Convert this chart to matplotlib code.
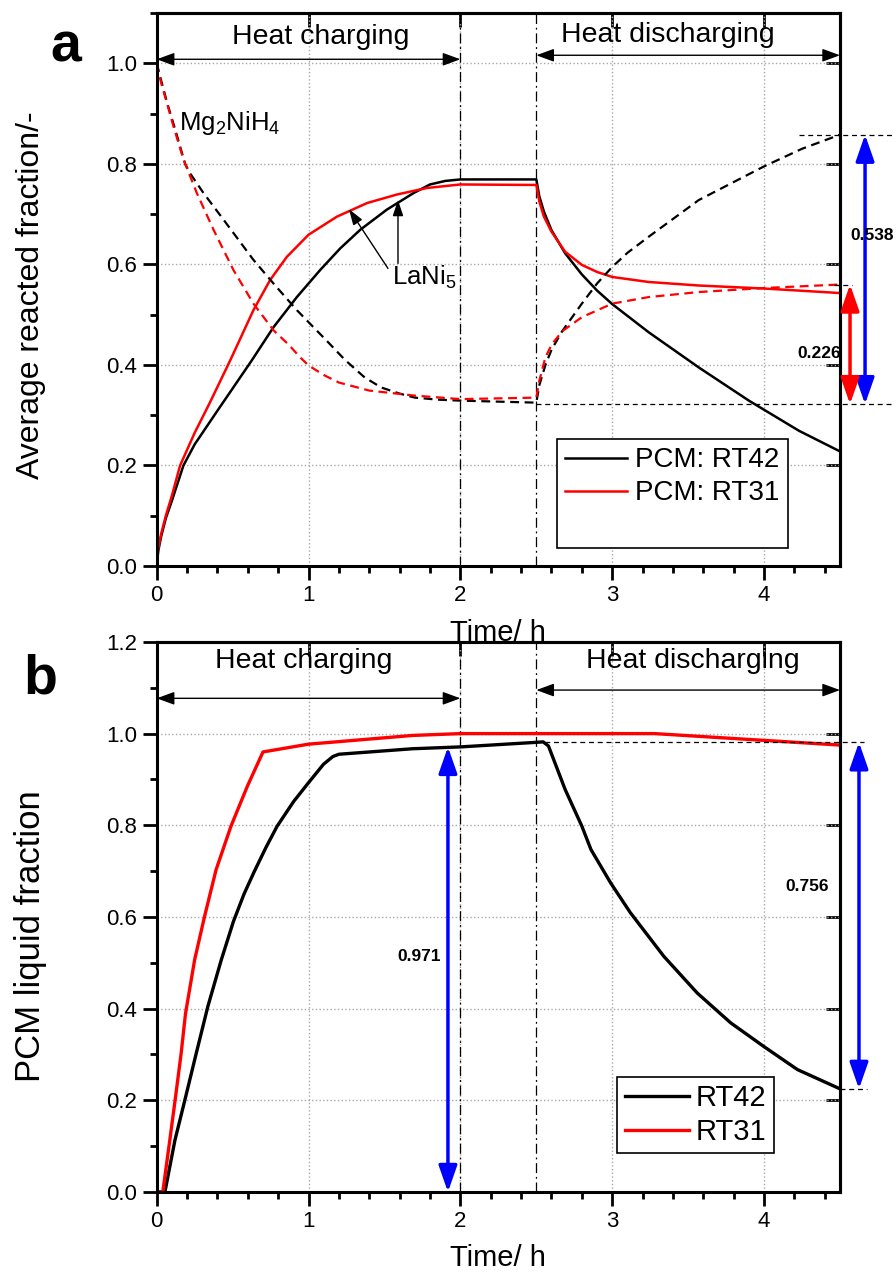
import matplotlib
matplotlib.use('Agg')
import matplotlib.pyplot as plt
from matplotlib.lines import Line2D
from matplotlib.ticker import MultipleLocator, NullLocator

plt.rcParams['font.family'] = ['Liberation Sans', 'DejaVu Sans']
plt.rcParams['mathtext.fontset'] = 'custom'
plt.rcParams['mathtext.rm'] = 'Liberation Sans'

# ---- panel a: average reacted fraction ----
t_la42 = [0, 0.01, 0.03, 0.06, 0.1, 0.176, 0.25, 0.4, 0.626, 0.769, 0.923, 1.077, 1.209, 1.341, 1.516, 1.692,
          1.8, 1.9, 2.0, 2.5, 2.52, 2.55, 2.6, 2.69, 2.8, 2.9, 3.0, 3.24, 3.57, 3.9, 4.23, 4.5]
v_la42 = [0, 0.03, 0.06, 0.095, 0.13, 0.2, 0.242, 0.309, 0.409, 0.475, 0.535, 0.589, 0.632, 0.669, 0.709, 0.742,
          0.759, 0.766, 0.769, 0.769, 0.735, 0.705, 0.668, 0.622, 0.58, 0.548, 0.521, 0.465, 0.395, 0.329, 0.269, 0.228]

t_la31 = [0, 0.01, 0.03, 0.06, 0.1, 0.154, 0.25, 0.35, 0.484, 0.637, 0.747, 0.857, 1.0, 1.187, 1.385,
          1.582, 1.78, 2.0, 2.5, 2.52, 2.55, 2.6, 2.69, 2.8, 2.9, 3.0, 3.24, 3.57, 4.0, 4.5]
v_la31 = [0, 0.035, 0.065, 0.1, 0.14, 0.2, 0.265, 0.325, 0.409, 0.509, 0.569, 0.615, 0.659, 0.695, 0.722,
          0.739, 0.752, 0.759, 0.758, 0.725, 0.695, 0.665, 0.625, 0.599, 0.585, 0.575, 0.565, 0.558, 0.552, 0.543]

t_mg42 = [0, 0.03, 0.07, 0.121, 0.187, 0.22, 0.308, 0.44, 0.637, 0.769, 0.923, 1.01, 1.12, 1.24, 1.37, 1.48,
          1.6, 1.7, 1.85, 2.0, 2.5, 2.52, 2.56, 2.6, 2.67, 2.8, 2.9, 3.0, 3.1, 3.24, 3.57, 4.0, 4.25, 4.5]
v_mg42 = [1.0, 0.965, 0.92, 0.869, 0.8, 0.781, 0.742, 0.689, 0.609, 0.562, 0.509, 0.482, 0.448, 0.41, 0.375, 0.355,
          0.343, 0.335, 0.331, 0.329, 0.325, 0.36, 0.4, 0.43, 0.467, 0.522, 0.562, 0.595, 0.623, 0.655, 0.728, 0.795,
          0.83, 0.858]

t_mg31 = [0, 0.03, 0.066, 0.11, 0.176, 0.264, 0.374, 0.505, 0.637, 0.769, 0.87, 0.945, 1.0, 1.1, 1.2, 1.4,
          1.7, 2.0, 2.5, 2.52, 2.56, 2.6, 2.67, 2.8, 3.0, 3.24, 3.57, 4.0, 4.5]
v_mg31 = [1.0, 0.96, 0.922, 0.875, 0.809, 0.742, 0.669, 0.589, 0.522, 0.469, 0.44, 0.415, 0.399, 0.38, 0.365, 0.349,
          0.339, 0.332, 0.335, 0.369, 0.415, 0.44, 0.467, 0.495, 0.522, 0.535, 0.545, 0.553, 0.56]

# ---- panel b: PCM liquid fraction ----
t_pcm42 = [0, 0.054, 0.12, 0.185, 0.26, 0.337, 0.424, 0.505, 0.575, 0.641, 0.72, 0.793, 0.902, 1.0, 1.098, 1.16,
           1.2, 1.685, 2.0, 2.5, 2.545, 2.58, 2.69, 2.8, 2.86, 2.99, 3.12, 3.34, 3.56, 3.78, 4.0, 4.22, 4.5]
v_pcm42 = [0, 0, 0.113, 0.2, 0.302, 0.405, 0.505, 0.59, 0.65, 0.698, 0.752, 0.798, 0.852, 0.893, 0.933, 0.95,
           0.955, 0.967, 0.971, 0.981, 0.982, 0.973, 0.878, 0.798, 0.747, 0.674, 0.609, 0.514, 0.434, 0.369, 0.317,
           0.267, 0.225]

t_pcm31 = [0, 0.04, 0.085, 0.125, 0.16, 0.19, 0.25, 0.315, 0.391, 0.489, 0.598, 0.7, 1.0, 1.685, 2.0, 3.28, 4.5]
v_pcm31 = [0, 0, 0.11, 0.21, 0.3, 0.39, 0.507, 0.601, 0.703, 0.798, 0.886, 0.96, 0.977, 0.996, 1.0, 1.0, 0.975]

# annotation values
charge_span = [0, 2]
discharge_span = [2.5, 4.5]
a_low, a_mg42_end, a_mg31_end = 0.322, 0.858, 0.56
a_labels = ['0.538', '0.226']
b_la_end, b_peak, b_final = 0.971, 0.981, 0.225
b_labels = ['0.971', '0.756']

fig = plt.figure(figsize=(8.96, 12.78), dpi=100)
ax1 = fig.add_axes([0.1749, 0.5571, 0.7626, 0.4327])
ax2 = fig.add_axes([0.1749, 0.0673, 0.7626, 0.4304])
ax2.set_facecolor('none')


def style(ax, ymax):
    ax.set_xlim(0, 4.5)
    ax.set_ylim(0, ymax)
    ax.xaxis.set_major_locator(MultipleLocator(1))
    ax.xaxis.set_minor_locator(MultipleLocator(0.2))
    ax.yaxis.set_major_locator(MultipleLocator(0.2))
    ax.yaxis.set_minor_locator(MultipleLocator(0.1))
    ax.yaxis.set_major_formatter('{x:.1f}')
    ax.tick_params(which='major', direction='out', length=10, width=2, labelsize=16, pad=4)
    ax.tick_params(which='minor', direction='out', length=5, width=2)
    ax.grid(True, which='major', linestyle=':', color='#a8a8a8', lw=1)
    for s in ax.spines.values():
        s.set_linewidth(2.2)
    top = ax.secondary_xaxis('top')
    top.set_xticks([0, 1, 2, 3, 4])
    top.xaxis.set_minor_locator(NullLocator())
    top.tick_params(direction='in', length=10, width=2, labeltop=False)
    top.spines['top'].set_linewidth(2.2)
    right = ax.secondary_yaxis('right')
    right.yaxis.set_major_locator(MultipleLocator(0.2))
    right.yaxis.set_minor_locator(NullLocator())
    right.tick_params(direction='in', length=10, width=2, labelright=False)
    right.spines['right'].set_linewidth(2.2)
    for xv in [2, 2.5]:
        ax.axvline(xv, color='black', lw=0.9, linestyle=(0, (8, 3, 1.5, 3)))


def span_arrow(ax, xs, y):
    ax.annotate('', xy=(xs[1], y), xytext=(xs[0], y), annotation_clip=False,
                arrowprops=dict(arrowstyle='<|-|>,head_length=0.6,head_width=0.22', color='black',
                                lw=1, mutation_scale=18, shrinkA=0, shrinkB=0))


def vert_arrow(ax, x, y0, y1, color):
    ax.annotate('', xy=(x, y1), xytext=(x, y0), annotation_clip=False,
                arrowprops=dict(arrowstyle='<|-|>,head_length=0.8,head_width=0.28', color=color,
                                lw=2.5, mutation_scale=20, shrinkA=0, shrinkB=0))


# panel a
style(ax1, 1.1)
l42, = ax1.plot(t_la42, v_la42, color='black', lw=1.8)
l31, = ax1.plot(t_la31, v_la31, color='#ff0000', lw=1.8)
ax1.plot(t_mg42, v_mg42, color='black', lw=1.6, dashes=(4, 2.5))
ax1.plot(t_mg31, v_mg31, color='#ff0000', lw=1.6, dashes=(4, 2.5))

ax1.plot([4.23, 4.85], [a_mg42_end] * 2, color='black', lw=0.9, dashes=(4, 3), clip_on=False)
ax1.plot([4.46, 4.58], [a_mg31_end] * 2, color='black', lw=0.9, dashes=(4, 3), clip_on=False)
ax1.plot([2.5, 4.85], [a_low] * 2, color='black', lw=0.9, dashes=(4, 3), clip_on=False)
vert_arrow(ax1, 4.665, a_low, a_mg42_end, '#0000ff')
vert_arrow(ax1, 4.566, a_low, a_mg31_end, '#ff0000')
ax1.text(4.566, 0.658, a_labels[0], fontsize=12.5, fontweight='bold', va='center', ha='left')
ax1.text(4.217, 0.423, a_labels[1], fontsize=12.5, fontweight='bold', va='center', ha='left')

span_arrow(ax1, charge_span, 1.008)
span_arrow(ax1, discharge_span, 1.016)
ax1.text(1.082, 1.052, 'Heat charging', fontsize=20.5, ha='center', va='center')
ax1.text(3.367, 1.056, 'Heat discharging', fontsize=20.5, ha='center', va='center')

ax1.text(0.15, 0.881, r'Mg$_\mathregular{2}$NiH$_\mathregular{4}$', fontsize=18.5, va='center', ha='left')
ax1.text(1.55, 0.575, r'LaNi$_\mathregular{5}$', fontsize=18.5, va='center', ha='left')
for xy, xytext in [((1.266, 0.71), (1.523, 0.592)), ((1.589, 0.728), (1.589, 0.602))]:
    ax1.annotate('', xy=xy, xytext=xytext,
                 arrowprops=dict(arrowstyle='-|>,head_length=0.6,head_width=0.2', color='black',
                                 lw=1, mutation_scale=16, shrinkA=0, shrinkB=0))

h0 = Line2D([], [], color='none')
leg1 = ax1.legend(handles=[l42, l31, h0], labels=['PCM: RT42', 'PCM: RT31', ' '],
                  loc='upper left', bbox_to_anchor=(0.586, 0.2297), borderaxespad=0, fontsize=20,
                  frameon=True, fancybox=False, edgecolor='black', framealpha=1, handlelength=2.2,
                  handletextpad=0.3, labelspacing=0.25, borderpad=0.3)
leg1.get_frame().set_linewidth(1.2)
ax1.set_xlabel('Time/ h', fontsize=21)
ax1.xaxis.set_label_coords(0.5, -0.095)
ax1.set_ylabel('Average reacted fraction/-', fontsize=23)
ax1.yaxis.set_label_coords(-0.162, 0.49)

# panel b
style(ax2, 1.2)
ax2.plot(t_pcm42, v_pcm42, color='black', lw=2.4, label='RT42')
ax2.plot(t_pcm31, v_pcm31, color='#ff0000', lw=2.4, label='RT31')
ax2.plot([2.5, 4.66], [b_peak] * 2, color='black', lw=0.9, dashes=(4, 3), clip_on=False)
ax2.plot([4.5, 4.68], [b_final] * 2, color='black', lw=0.9, dashes=(4, 3), clip_on=False)
vert_arrow(ax2, 1.918, 0, b_la_end, '#0000ff')
vert_arrow(ax2, 4.625, b_final, b_peak, '#0000ff')
ax2.text(1.583, 0.513, b_labels[0], fontsize=12.5, fontweight='bold', va='center', ha='left')
ax2.text(4.137, 0.666, b_labels[1], fontsize=12.5, fontweight='bold', va='center', ha='left')

span_arrow(ax2, charge_span, 1.077)
span_arrow(ax2, discharge_span, 1.095)
ax2.text(0.97, 1.158, 'Heat charging', fontsize=20.5, ha='center', va='center')
ax2.text(3.528, 1.158, 'Heat discharging', fontsize=20.5, ha='center', va='center')

leg2 = ax2.legend(loc='upper left', bbox_to_anchor=(0.674, 0.209), borderaxespad=0, fontsize=21,
                  frameon=True, fancybox=False, edgecolor='black', framealpha=1, handlelength=2.2,
                  handletextpad=0.25, labelspacing=0.2, borderpad=0.25)
leg2.get_frame().set_linewidth(1.2)
ax2.set_xlabel('Time/ h', fontsize=21)
ax2.xaxis.set_label_coords(0.5, -0.095)
ax2.set_ylabel('PCM liquid fraction', fontsize=25)
ax2.yaxis.set_label_coords(-0.16, 0.465)

fig.text(66 / 896, 1 - 47 / 1278, 'a', fontsize=40, fontweight='bold', ha='center', va='center')
fig.text(40 / 896, 1 - 680 / 1278, 'b', fontsize=40, fontweight='bold', ha='center', va='center')

fig.savefig('out.png', dpi=100)
